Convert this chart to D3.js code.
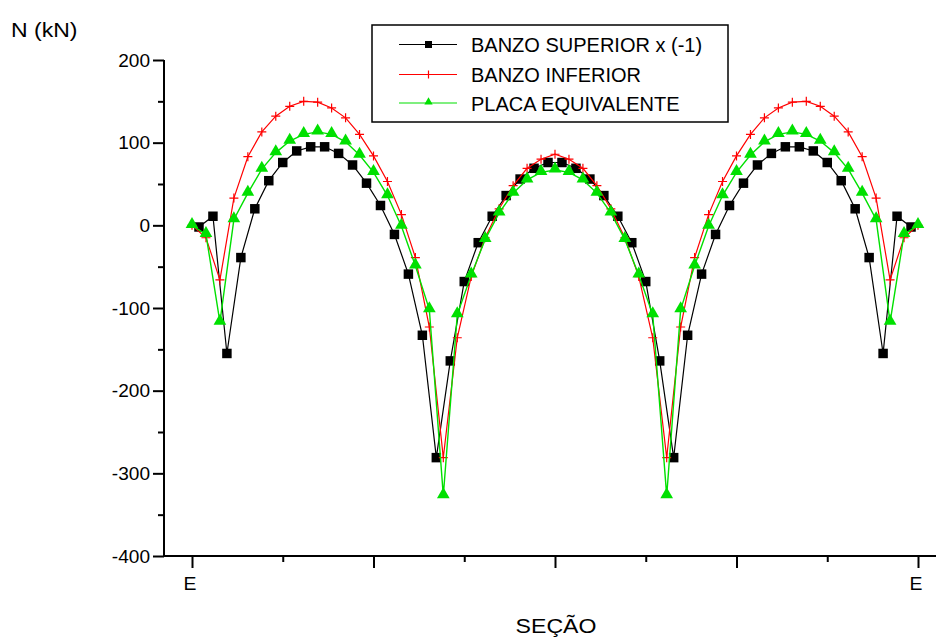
<!DOCTYPE html>
<html><head><meta charset="utf-8">
<script src="https://cdn.jsdelivr.net/npm/d3@7"></script>
<style>html,body{margin:0;padding:0;background:#fff;}svg{display:block;}</style>
</head><body>
<script>
// ---- data ----
const xTickPositions = [0, 13, 26, 39, 52];
const xMinorTicks = [6.5, 19.5, 32.5, 45.5];
const xTickLabels = ["E", "", "", "", "E"];
const yTicks = [-400, -300, -200, -100, 0, 100, 200];
const yMinorTicks = [-350, -250, -150, -50, 50, 150];

// Banzo inferior & placa equivalente: sections 0..52
const banzoInferior = [0, -15, -66, 33, 83, 113, 132, 144, 150, 149, 142, 130, 110, 84, 53, 13, -39, -123, -281, -136, -62, -15, 20, 48, 69, 80, 86, 80, 69, 48, 20, -15, -62, -136, -281, -123, -39, 13, 53, 84, 110, 130, 142, 149, 150, 144, 132, 113, 83, 33, -66, -15, 0];
const placaEquivalente = [0, -11, -117, 7, 39, 68, 88, 102, 110, 113, 110, 101, 85, 64, 36, -1, -49, -102, -327, -108, -60, -17, 15, 39, 55, 64, 67, 64, 55, 39, 15, -17, -60, -108, -327, -102, -49, -1, 36, 64, 85, 101, 110, 113, 110, 102, 88, 68, 39, 7, -117, -11, 0];
// Banzo superior x(-1): sections at mid-points 0.5..51.5
const banzoSuperior = [-2, 11, -155, -39, 20, 54, 76, 90, 95, 95, 87, 73, 51, 24, -11, -59, -133, -281, -164, -68, -21, 11, 36, 56, 69, 76, 76, 69, 56, 36, 11, -21, -68, -164, -281, -133, -59, -11, 24, 51, 73, 87, 95, 95, 90, 76, 54, 20, -39, -155, 11, -2];
const seriesNames = ["BANZO SUPERIOR x (-1)", "BANZO INFERIOR", "PLACA EQUIVALENTE"];

// ---- chart ----
const W = 938, H = 639;
const FONT = "Arial, 'Liberation Sans', sans-serif";
const svg = d3.select("body").append("svg").attr("width", W).attr("height", H);

const x = d3.scaleLinear().domain([0, 52]).range([192, 918]);
const y = d3.scaleLinear().domain([-400, 200]).range([556, 60]);
const axisX0 = 164;

function stext(g, px, py, txt, size, sx, anchor) {
  return g.append("text")
    .attr("transform", `translate(${px},${py}) scale(${sx},1)`)
    .attr("font-family", FONT).attr("font-size", size)
    .attr("text-anchor", anchor || "start").attr("fill", "#000").text(txt);
}

// y axis
svg.append("line").attr("x1", axisX0).attr("x2", axisX0).attr("y1", y(200)).attr("y2", y(-400) + 1)
  .attr("stroke", "#000").attr("stroke-width", 2);
const yAx = d3.axisLeft(y).tickValues(yTicks).tickSize(11).tickFormat("");
const gya = svg.append("g").attr("transform", `translate(${axisX0},0)`).call(yAx);
gya.select(".domain").remove();
gya.selectAll(".tick line").attr("stroke", "#000").attr("stroke-width", 2);
yTicks.forEach(v => {
  stext(svg, 150, y(v) + 6.5, String(v), 18, 1.06, "end");
});
const yMin = d3.axisLeft(y).tickValues(yMinorTicks).tickSize(6).tickFormat("");
const gym = svg.append("g").attr("transform", `translate(${axisX0},0)`).call(yMin);
gym.select(".domain").remove();
gym.selectAll(".tick line").attr("stroke", "#000").attr("stroke-width", 2);

// x axis
svg.append("line").attr("x1", axisX0 - 1).attr("x2", 936).attr("y1", 556).attr("y2", 556)
  .attr("stroke", "#000").attr("stroke-width", 2);
const xAx = d3.axisBottom(x).tickValues(xTickPositions).tickSize(12).tickFormat("");
const gxa = svg.append("g").attr("transform", "translate(0,556)").call(xAx);
gxa.select(".domain").remove();
gxa.selectAll(".tick line").attr("stroke", "#000").attr("stroke-width", 2);
const xMin = d3.axisBottom(x).tickValues(xMinorTicks).tickSize(6).tickFormat("");
const gxm = svg.append("g").attr("transform", "translate(0,556)").call(xMin);
gxm.select(".domain").remove();
gxm.selectAll(".tick line").attr("stroke", "#000").attr("stroke-width", 2);
xTickPositions.forEach((p, i) => {
  if (xTickLabels[i]) stext(svg, x(p) - 2, 590, xTickLabels[i], 18.5, 1.05, "middle");
});

// axis titles
stext(svg, 11, 37, "N (kN)", 20, 1.15, "start");
stext(svg, 556, 633, "SEÇÃO", 21, 1.1, "middle");

// ---- series ----
const line = d3.line().x(d => x(d[0])).y(d => y(d[1]));
const supData = banzoSuperior.map((v, i) => [i + 0.5, v]);
const infData = banzoInferior.map((v, i) => [i, v]);
const plaData = placaEquivalente.map((v, i) => [i, v]);

const sq = d3.symbol().type(d3.symbolSquare).size(90);
const tri = d3.symbol().type(d3.symbolTriangle).size(70);

// Banzo superior (black)
svg.append("path").datum(supData).attr("d", line).attr("fill", "none").attr("stroke", "#000").attr("stroke-width", 1.2);
svg.append("g").selectAll("path").data(supData).join("path")
  .attr("d", sq).attr("transform", d => `translate(${x(d[0])},${y(d[1])})`).attr("fill", "#000");

// Banzo inferior (red)
svg.append("path").datum(infData).attr("d", line).attr("fill", "none").attr("stroke", "#ff0000").attr("stroke-width", 1.2);
const cr = svg.append("g");
infData.forEach(d => {
  const cx = x(d[0]), cy = y(d[1]);
  cr.append("path").attr("d", `M${cx - 4.5},${cy}H${cx + 4.5}M${cx},${cy - 4.5}V${cy + 4.5}`)
    .attr("stroke", "#ff0000").attr("stroke-width", 1.2).attr("fill", "none");
});

// Placa equivalente (green)
svg.append("path").datum(plaData).attr("d", line).attr("fill", "none").attr("stroke", "#00e000").attr("stroke-width", 1.4);
svg.append("g").selectAll("path").data(plaData).join("path")
  .attr("d", tri).attr("transform", d => `translate(${x(d[0])},${y(d[1]) - 1})`).attr("fill", "#00e000");

// ---- legend ----
const lg = svg.append("g");
lg.append("rect").attr("x", 372).attr("y", 25).attr("width", 356).attr("height", 97)
  .attr("fill", "#fff").attr("stroke", "#000").attr("stroke-width", 1.5);
const rowsY = [44.5, 74.5, 103];
const colors = ["#000", "#ff0000", "#00e000"];
rowsY.forEach((ry, i) => {
  lg.append("line").attr("x1", 399).attr("x2", 457).attr("y1", ry).attr("y2", ry)
    .attr("stroke", colors[i]).attr("stroke-width", 1.2);
  if (i === 0) {
    lg.append("rect").attr("x", 425).attr("y", ry - 3.5).attr("width", 7).attr("height", 7).attr("fill", "#000");
  } else if (i === 1) {
    lg.append("path").attr("d", `M424.5,${ry}H432.5M428.5,${ry - 4}V${ry + 4}`).attr("stroke", "#ff0000").attr("stroke-width", 1.2);
  } else {
    lg.append("path").attr("d", d3.symbol().type(d3.symbolTriangle).size(30)).attr("transform", `translate(428.5,${ry - 1})`).attr("fill", "#00e000");
  }
  stext(lg, 471, ry + 7.5, seriesNames[i], 20, 1.0, "start");
});
</script>
</body></html>
